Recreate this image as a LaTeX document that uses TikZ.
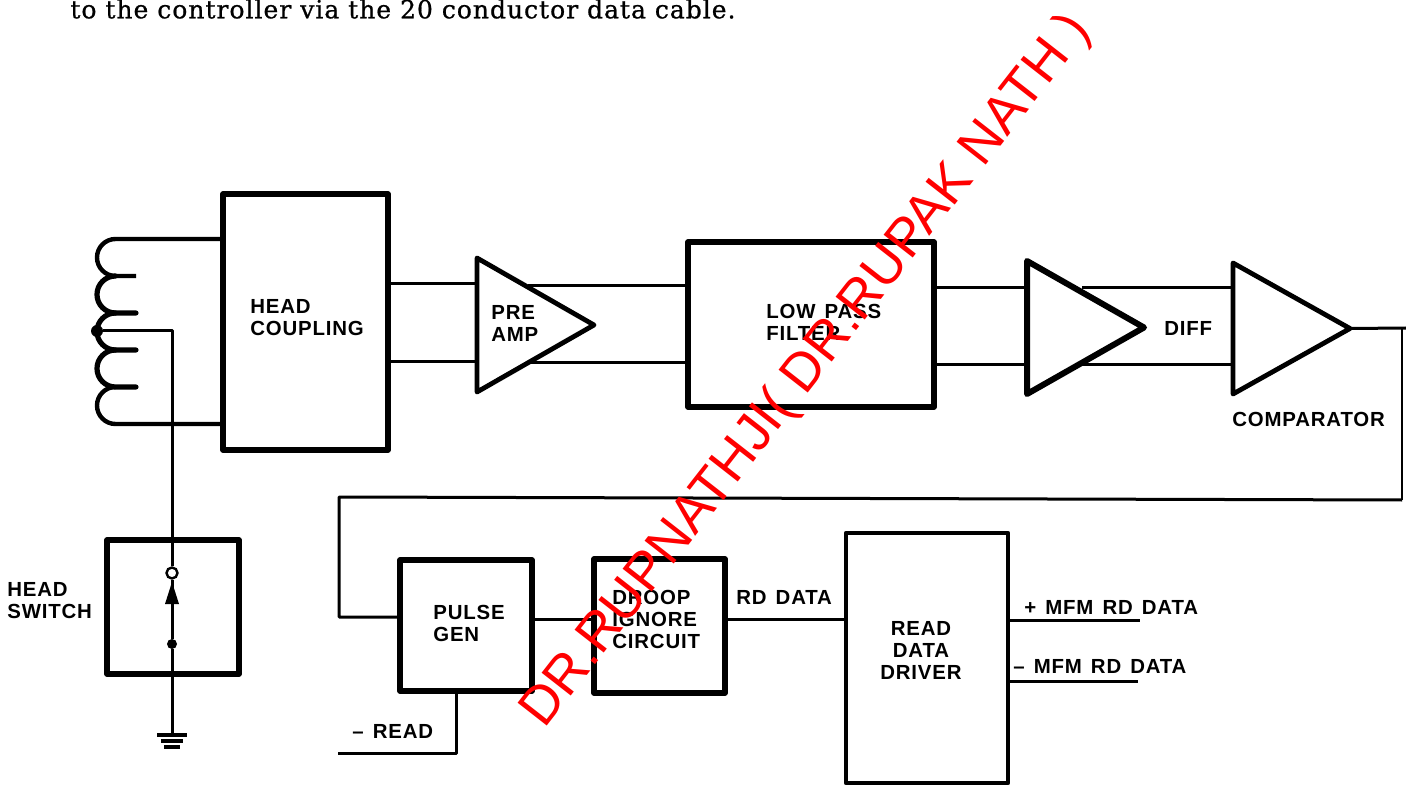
\documentclass[tikz,border=0pt]{standalone}
\usepackage{fontspec}
\setmainfont{Liberation Sans}
\newfontfamily\lblfont[LetterSpace=4,WordSpace=1.4,UprightFont=*-Bold]{Liberation Sans}
\newfontfamily\topfont[LetterSpace=4,FakeBold=0.8]{DejaVu Serif}
\newfontfamily\wmfont{Liberation Sans}
\usetikzlibrary{shapes.geometric}
\definecolor{wmred}{RGB}{255,0,0}
\tikzset{
  x=0.5pt,y=-0.5pt,
  blk/.style={draw,line width=2.8pt,rectangle,inner sep=0pt,line join=round},
  amp/.style={draw,line width=2.4pt,isosceles triangle,isosceles triangle stretches,shape border rotate=0,inner sep=0pt,outer sep=0pt,line join=round,anchor=lower side},
  wire/.style={line width=1.5pt,line join=round},
  lbl/.style={font=\fontsize{10.2}{11}\selectfont\lblfont,align=left,inner sep=0pt,anchor=west},
  dotn/.style={circle,fill=black,inner sep=0pt,minimum size=6pt}
}
\newcommand{\boxat}[6]{\node[blk,minimum width={(#4-#2)*0.5pt},minimum height={(#5-#3)*0.5pt},#6] (#1) at ({(#2+#4)/2},{(#3+#5)/2}) {};}
\begin{document}
\begin{tikzpicture}
\useasboundingbox (0,0) rectangle (1406,785);
\node[font=\fontsize{12.5}{14}\selectfont\topfont,inner sep=0pt,anchor=west] (intro) at (70,9) {to the controller via the 20 conductor data cable.};
% boxes
\boxat{coup}{223}{194}{388}{450}{}
\boxat{filt}{688}{242}{934}{407}{}
\boxat{hsw}{107}{540}{239}{674}{}
\boxat{pgen}{400}{560}{532}{691}{}
\boxat{droop}{594}{559}{725}{693}{}
\boxat{rdd}{846}{533}{1008}{783}{line width=2.2pt}
% amplifiers
\node[amp,minimum width=67pt,minimum height=58.5pt] (pre) at (477,325) {};
\node[amp,minimum width=66.5pt,minimum height=58.5pt,line width=3pt] (dif) at (1027,327.5) {};
\node[amp,minimum width=65.5pt,minimum height=58.5pt,line width=2.4pt] (cmp) at (1233,328.5) {};
% labels
\node[lbl] (tcoup) at (250,318) {HEAD\\COUPLING};
\node[lbl] (tpre) at (491,323) {PRE\\AMP};
\node[lbl] (tfilt) at (766,322) {LOW PASS\\FILTER};
\node[lbl] (tdiff) at (1164,328) {DIFF};
\node[lbl] (tcmp) at (1232,419) {COMPARATOR};
\node[lbl] (thsw) at (7,601) {HEAD\\SWITCH};
\node[lbl] (tpg) at (433,623) {PULSE\\GEN};
\node[lbl] (tdr) at (612,619) {DROOP\\IGNORE\\CIRCUIT};
\node[lbl] (trd) at (736,597) {RD DATA};
\node[lbl,align=center] (tdrv) at (880,650) {READ\\DATA\\DRIVER};
\node[lbl] (tp) at (1024,607) {+ MFM RD DATA};
\node[lbl] (tm) at (1013,666) {– MFM RD DATA};
\node[lbl] (tr) at (352,731) {– READ};
% wires head -> amp -> filter
\draw[wire] (coup.east |- 0,284) -- (pre.lower side |- 0,284);
\draw[wire] (coup.east |- 0,362) -- (pre.lower side |- 0,362);
\coordinate (preU) at (528,286);
\coordinate (preL) at (528,363);
\draw[wire] (preU) -- (filt.west |- preU);
\draw[wire] (preL) -- (filt.west |- preL);
\draw[wire] (filt.east |- 0,288) -- (dif.lower side |- 0,288);
\draw[wire] (filt.east |- 0,365) -- (dif.lower side |- 0,365);
\coordinate (difU) at (1082,288);
\coordinate (difL) at (1082,365);
\draw[wire] (difU) -- (cmp.lower side |- difU);
\draw[wire] (difL) -- (cmp.lower side |- difL);
% comparator out and feedback
\coordinate (outR) at (1406,328);
\coordinate (fbT) at (1402,328);
\coordinate (fbR) at (1402,500);
\coordinate (fbL) at (339,497);
\draw[wire] (cmp.apex) -- (outR);
\draw[line width=1pt] (fbT) -- (fbR);
\draw[wire] (fbR) -- (fbL) -- (fbL |- 0,617) -- (pgen.west |- 0,617);
\draw[wire] (pgen.east |- 0,619) -- (droop.west |- 0,619);
\draw[wire] (droop.east |- 0,619) -- (rdd.west |- 0,619);
\coordinate (mp) at (1140,620);
\coordinate (mm) at (1138,681);
\draw[wire] (rdd.east |- mp) -- (mp);
\draw[wire] (rdd.east |- mm) -- (mm);
\coordinate (rdin) at (338,753);
\draw[wire] (pgen.south -| 456,0) -- (456,753) -- (rdin);
% coil
\draw[line width=2.2pt] (coup.west |- 0,239) -- (115.5,239) arc[start angle=-90,end angle=-270,radius=18.5] -- (136,276);
\draw[line width=2.6pt,line cap=round] (115.5,276) arc[start angle=-90,end angle=-270,radius=18.5] -- (136,313);
\draw[line width=2.6pt,line cap=round] (115.5,313) arc[start angle=-90,end angle=-270,radius=18.5] -- (136,350);
\draw[line width=2.6pt,line cap=round] (115.5,350) arc[start angle=-90,end angle=-270,radius=18.5] -- (136,387);
\draw[line width=2.2pt] (115.5,387) arc[start angle=-90,end angle=-270,radius=18.5] -- (coup.west |- 0,424);
% head switch line
\node[dotn] (ctap) at (97,331) {};
\coordinate (gnd) at (172,735);
\node[circle,draw,fill=white,line width=1.2pt,inner sep=0pt,minimum size=5.5pt] (sw1) at (172,573) {};
\node[dotn,minimum size=5pt] (sw2) at (172,644) {};
\draw[wire] (ctap) -- (172,331) -- (sw1);
\draw[wire] (sw1) -- (sw2) -- (gnd);
\fill (172,582) -- (165,604) -- (179,604) -- cycle;
\draw[line width=1.8pt] (157,735) -- (187,735) (161,741) -- (183,741) (164,747) -- (180,747);
% watermark
\node[text=wmred,font=\fontsize{26.9}{30}\selectfont\wmfont,rotate=52,inner sep=0pt,anchor=base west] (wm) at (544.5,730) {DR.RUPNATHJI( DR.RUPAK NATH )};
\end{tikzpicture}
\end{document}
